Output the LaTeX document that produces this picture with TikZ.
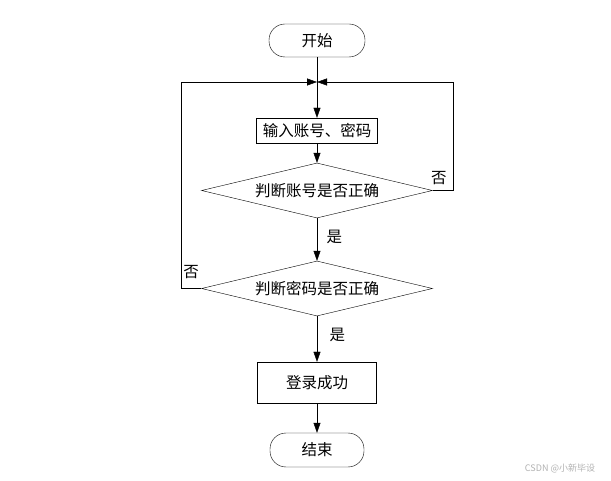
\documentclass[tikz,border=0pt]{standalone}
\usepackage{fontspec}
\setmainfont{Noto Sans CJK SC}
\usetikzlibrary{shapes.geometric, arrows.meta}

\begin{document}
\begin{tikzpicture}[x = 1pt, y = -1pt,
	font = \fontsize{15.5}{17}\selectfont,
	terminal/.style = {draw, rectangle, rounded corners = 16pt, minimum width = 96pt, minimum height = 33pt, inner sep = 0pt},
	process/.style = {draw, rectangle, inner sep = 0pt},
	decision/.style = {draw, diamond, inner sep = 0pt, aspect = 4.2, minimum width = 231pt, minimum height = 55pt},
	flow/.style = {thin, -{Triangle[length = 10pt, width = 7pt]}},
	plain/.style = {thin}]
	\useasboundingbox[fill = white] (0, 0) rectangle (611, 481);

	\node[terminal] (start) at (317, 40.5) {开始};
	\node[process, minimum width = 121pt, minimum height = 25pt] (input) at (317, 130.5) {输入账号、密码};
	\node[decision] (checkid) at (317, 190.5) {判断账号是否正确};
	\node[decision] (checkpw) at (317, 288.5) {判断密码是否正确};
	\node[process, minimum width = 119pt, minimum height = 41pt] (success) at (317, 382.5) {登录成功};
	\node[terminal, minimum width = 94pt, minimum height = 34pt] (finish) at (317, 450) {结束};

	\coordinate (merge) at (317, 82);
	\coordinate (rightup) at (453, 82);
	\coordinate (leftup) at (181, 82);

	\draw[plain] (start) -- (merge);
	\draw[flow] (merge) -- (input);
	\draw[flow] (input) -- (checkid);
	\draw[flow] (checkid) -- (checkpw) node[pos = .45, right, xshift = 6pt]{是};
	\draw[flow] (checkpw) -- (success) node[pos = .4, right, xshift = 9pt]{是};
	\draw[flow] (success) -- (finish);

	% loops back to the input
	\draw[flow] (checkid.east) -- (rightup |- checkid.east) node[pos = .3, above, yshift = 2pt]{否} -- (rightup) -- (merge);
	\draw[flow] (checkpw.west) -- (leftup |- checkpw.west) node[pos = .5, above, yshift = 6pt]{否} -- (leftup) -- (merge);

	\node[text = gray!60, font = \fontsize{9}{10}\selectfont] (mark) at (560, 468) {CSDN @小新毕设};
\end{tikzpicture}
\end{document}
